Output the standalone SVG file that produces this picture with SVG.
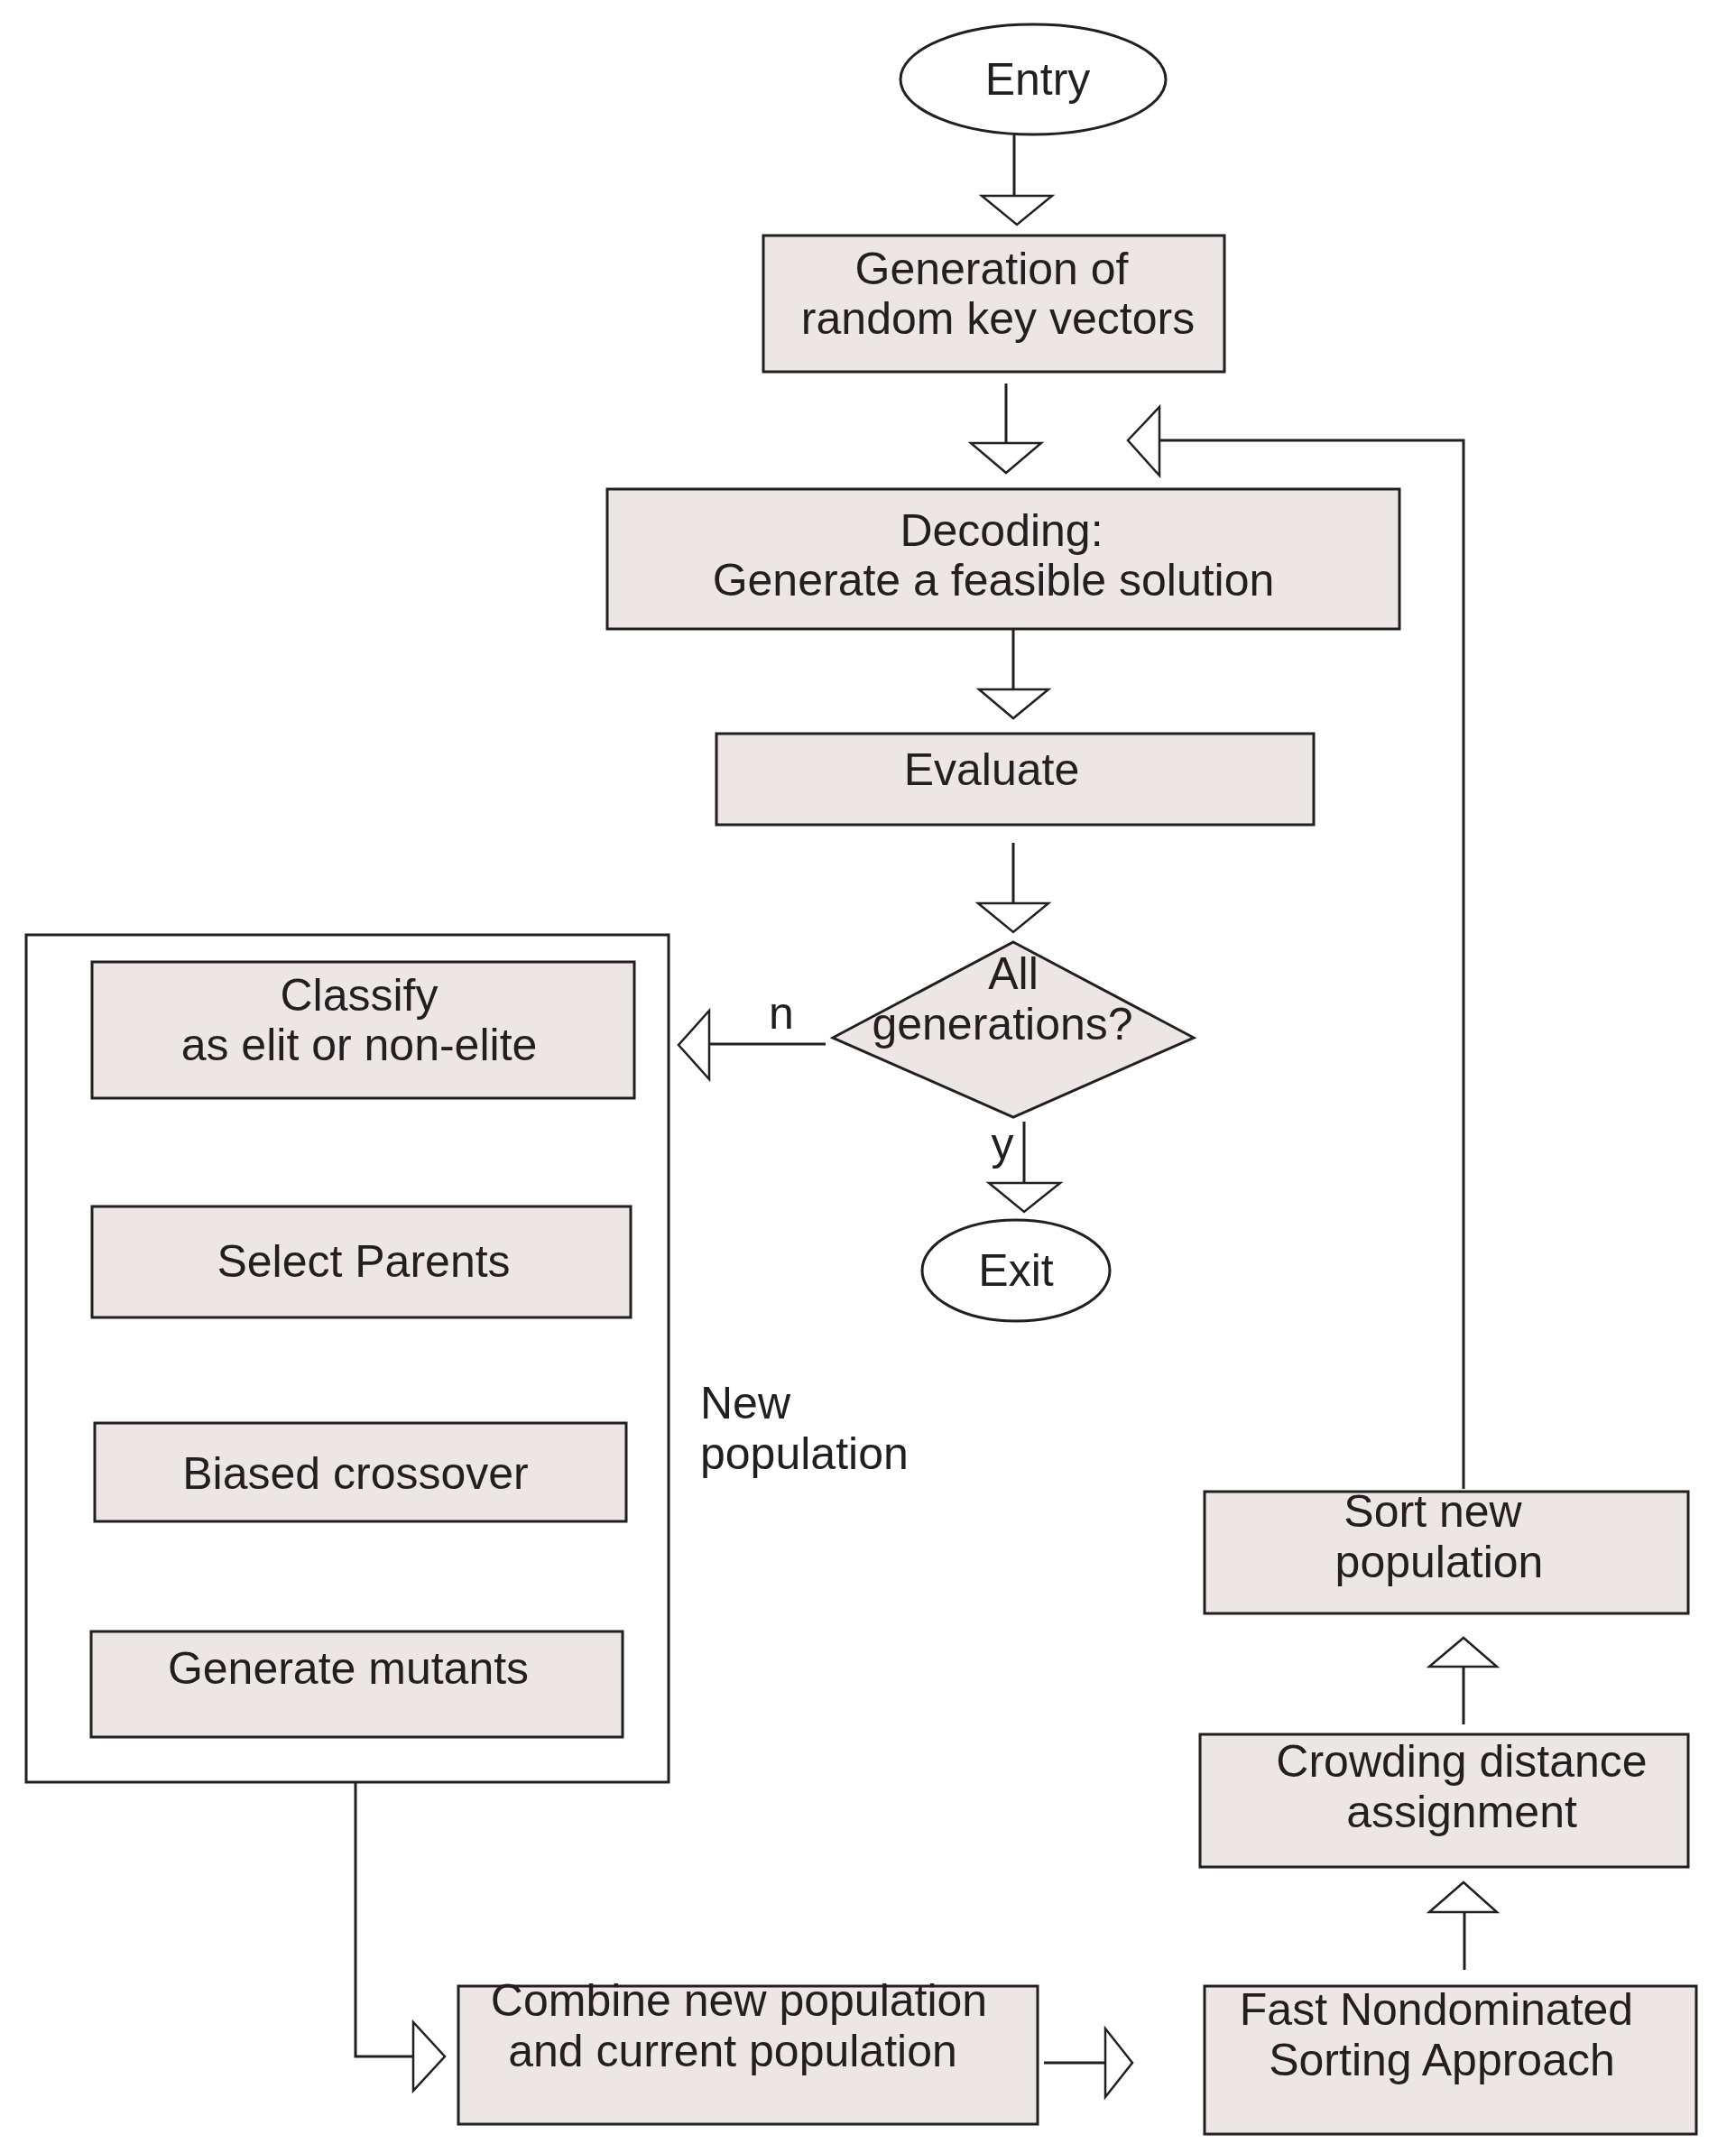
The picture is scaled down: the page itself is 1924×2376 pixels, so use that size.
<svg xmlns="http://www.w3.org/2000/svg" width="1924" height="2376" viewBox="0 0 1924 2376">
<style>
.b{fill:#ece7e4;stroke:#231f20;stroke-width:3}
.o{fill:#fff;stroke:#231f20;stroke-width:3}
.l{fill:none;stroke:#231f20;stroke-width:3}
.t{fill:none;stroke:#231f20;stroke-width:2.5}
text{font-family:"Liberation Sans",Arial,sans-serif;font-size:50px;fill:#231f20;text-anchor:middle}
</style>
<rect width="1924" height="2376" fill="#fff"/>
<g id="connectors">
<path class="l" d="M1124 147V217"/><path class="t" d="M1088 217H1166L1127 249Z"/>
<path class="l" d="M1115 425V491"/><path class="t" d="M1076 491H1154L1115 524Z"/>
<path class="l" d="M1622 1650V488H1285"/><path class="t" d="M1285 451V527L1250 488Z"/>
<path class="l" d="M1123 697V764"/><path class="t" d="M1085 764H1162L1123 796Z"/>
<path class="l" d="M1123 934V1001"/><path class="t" d="M1084 1001H1162L1123 1033Z"/>
<path class="l" d="M915 1157H786"/><path class="t" d="M786 1120V1196L752 1158Z"/>
<text x="866" y="1140">n</text>
<path class="l" d="M1135 1243V1311"/><path class="t" d="M1096 1311H1175L1135 1343Z"/>
<text x="1111" y="1285">y</text>
<path class="l" d="M394 1229V1296"/><path class="t" d="M356 1296H434L394 1328Z"/>
<path class="l" d="M394 1469V1537"/><path class="t" d="M356 1537H434L394 1569Z"/>
<path class="l" d="M386 1694V1759"/><path class="t" d="M347 1759H425L386 1792Z"/>
<path class="l" d="M394 1975V2279H458"/><path class="t" d="M458 2241V2317L493 2279Z"/>
<path class="l" d="M1157 2286H1225"/><path class="t" d="M1225 2248V2324L1255 2286Z"/>
<path class="l" d="M1623 2183V2119"/><path class="t" d="M1584 2119H1659L1622 2086Z"/>
<path class="l" d="M1622 1911V1847"/><path class="t" d="M1584 1847H1659L1622 1815Z"/>
</g>
<g id="entry"><ellipse class="o" cx="1145" cy="88" rx="147" ry="61"/><text x="1150" y="105">Entry</text></g>
<g id="gen"><rect class="b" x="846" y="261" width="511" height="151"/><text x="1099" y="315">Generation of</text><text x="1106" y="370">random key vectors</text></g>
<g id="decode"><rect class="b" x="673" y="542" width="878" height="155"/><text x="1110" y="605">Decoding:</text><text x="1101" y="660">Generate a feasible solution</text></g>
<g id="evaluate"><rect class="b" x="794" y="813" width="662" height="101"/><text x="1099" y="870">Evaluate</text></g>
<g id="decision"><path class="b" d="M1123 1044L1323 1150L1123 1238L923 1150Z"/><text x="1123" y="1096">All</text><text x="1111" y="1152">generations?</text></g>
<g id="exit"><ellipse class="o" cx="1126" cy="1408" rx="104" ry="56"/><text x="1126" y="1410" dy="15">Exit</text></g>
<g id="newpop"><rect class="o" x="29" y="1036" width="712" height="939"/><text x="776" y="1572" style="text-anchor:start">New</text><text x="776" y="1628" style="text-anchor:start">population</text></g>
<g id="classify"><rect class="b" x="102" y="1066" width="601" height="151"/><text x="398" y="1120">Classify</text><text x="398" y="1175">as elit or non-elite</text></g>
<g id="select"><rect class="b" x="102" y="1337" width="597" height="123"/><text x="403" y="1415">Select Parents</text></g>
<g id="biased"><rect class="b" x="105" y="1577" width="589" height="109"/><text x="394" y="1650">Biased crossover</text></g>
<g id="mutants"><rect class="b" x="101" y="1808" width="589" height="117"/><text x="386" y="1866">Generate mutants</text></g>
<g id="combine"><rect class="b" x="508" y="2201" width="642" height="153"/><text x="819" y="2234">Combine new  population</text><text x="812" y="2290">and current population</text></g>
<g id="fast"><rect class="b" x="1335" y="2201" width="545" height="164"/><text x="1592" y="2244">Fast Nondominated</text><text x="1598" y="2300">Sorting Approach</text></g>
<g id="crowding"><rect class="b" x="1330" y="1922" width="541" height="147"/><text x="1620" y="1969">Crowding distance</text><text x="1620" y="2025">assignment</text></g>
<g id="sort"><rect class="b" x="1335" y="1653" width="536" height="135"/><text x="1588" y="1692">Sort new</text><text x="1595" y="1748">population</text></g>
</svg>
